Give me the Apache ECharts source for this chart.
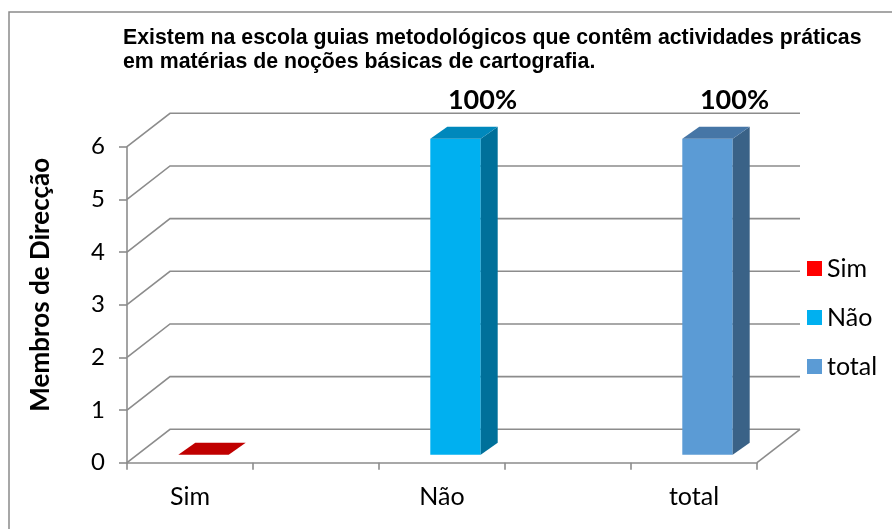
<!DOCTYPE html>
<html>
<head>
<meta charset="utf-8">
<script src="https://cdn.jsdelivr.net/npm/echarts@6/dist/echarts.min.js"></script>
<style>
  html, body { margin: 0; padding: 0; background: #fff; }
  #chart { width: 892px; height: 529px; }
</style>
</head>
<body>
<div id="chart"></div>
<script>
// categorias (os espaços vazios separam as colunas, como no gráfico original)
const categories = ['Sim', '', 'Não', '', 'total']
const yTicks = [0, 1, 2, 3, 4, 5, 6]
const simValues = [0, null, null, null, null]
const naoValues = [null, null, 6, null, null]
const totalValues = [null, null, null, null, 6]
const barLabels = ['', '', '100%', '', '100%']

// profundidade do efeito 3D (px)
const DEPTH_X = 43
const DEPTH_Y = -33.4
const BAR_SHIFT_X = 13.5
const BAR_SHIFT_Y = -8
const SIDE_X = 17
const SIDE_Y = -12
const BAR_RATIO = 0.4

const GRID_COLOR = '#8c8c8c'
const CALIBRI = 'Lato, "Open Sans", sans-serif'

const barSeries = [
  { name: 'Sim', values: simValues, front: '#FF0000', side: '#A00000', top: '#C00000' },
  { name: 'Não', values: naoValues, front: '#00B0F0', side: '#00709A', top: '#0088BC' },
  { name: 'total', values: totalValues, front: '#5B9BD5', side: '#3A6287', top: '#4676A6' }
]

// paredes de fundo e linhas de grelha
function renderWall (params, api) {
  const cs = params.coordSys
  const v = api.value(1)
  const y = api.coord([0, v])[1]
  const xl = cs.x
  const xr = cs.x + cs.width
  const style = { stroke: GRID_COLOR, lineWidth: 1.6, fill: null }
  const children = [{
    type: 'polyline',
    shape: { points: [[xl, y], [xl + DEPTH_X, y + DEPTH_Y], [xr + DEPTH_X, y + DEPTH_Y]] },
    style: style
  }]
  if (v === 0) {
    children.push({
      type: 'line',
      shape: { x1: xr, y1: y, x2: xr + DEPTH_X, y2: y + DEPTH_Y },
      style: style
    })
  }
  return { type: 'group', children: children }
}

function makeBarRenderer (s) {
  return function (params, api) {
    const idx = api.value(0)
    const v = api.value(1)
    const base = api.coord([idx, 0])
    const topPt = api.coord([idx, v])
    const w = api.size([1, 0])[0] * BAR_RATIO
    const x0 = base[0] + BAR_SHIFT_X - w / 2
    const x1 = x0 + w
    const yb = base[1] + BAR_SHIFT_Y
    const yt = topPt[1] + BAR_SHIFT_Y
    const children = []
    if (yb - yt > 0.5) {
      children.push({
        type: 'rect',
        shape: { x: x0, y: yt, width: w, height: yb - yt },
        style: { fill: s.front }
      })
      children.push({
        type: 'polygon',
        shape: { points: [[x1, yb], [x1, yt], [x1 + SIDE_X, yt + SIDE_Y], [x1 + SIDE_X, yb + SIDE_Y]] },
        style: { fill: s.side }
      })
    }
    children.push({
      type: 'polygon',
      shape: { points: [[x0, yt], [x1, yt], [x1 + SIDE_X, yt + SIDE_Y], [x0 + SIDE_X, yt + SIDE_Y]] },
      style: { fill: s.top }
    })
    const label = barLabels[idx]
    if (label) {
      children.push({
        type: 'text',
        style: {
          text: label,
          x: x0 + w / 2 + 27,
          y: yt + SIDE_Y - 26,
          align: 'center',
          verticalAlign: 'middle',
          fill: '#000',
          font: 'bold 27px ' + CALIBRI
        }
      })
    }
    return { type: 'group', children: children }
  }
}

const chart = echarts.init(document.getElementById('chart'))

const option = {
  animation: false,
  backgroundColor: '#fff',
  graphic: [{
    type: 'rect',
    shape: { x: 9, y: 12, width: 1000, height: 1000 },
    style: { fill: null, stroke: '#8a8a8a', lineWidth: 1.5 },
    z: -1
  }],
  title: {
    text: 'Existem na escola guias metodológicos que contêm actividades práticas\nem matérias de noções básicas de cartografia.',
    left: 123,
    top: 26,
    padding: 0,
    textStyle: {
      fontFamily: '"Liberation Sans", Arial, sans-serif',
      fontWeight: 'bold',
      fontSize: 21.3,
      lineHeight: 24,
      color: '#000'
    }
  },
  legend: {
    orient: 'vertical',
    left: 802,
    top: 251,
    itemWidth: 15,
    itemHeight: 15,
    itemGap: 24,
    icon: 'rect',
    data: barSeries.map(s => s.name),
    textStyle: { fontFamily: CALIBRI, fontSize: 25, lineHeight: 24, color: '#000' }
  },
  grid: {
    left: 127,
    right: 135,
    top: 146.7,
    bottom: 66.3
  },
  xAxis: {
    type: 'category',
    data: categories,
    boundaryGap: true,
    axisLine: { show: true, lineStyle: { color: GRID_COLOR, width: 1.6 } },
    axisTick: { show: true, interval: 0, length: 7, lineStyle: { color: GRID_COLOR, width: 1.6 } },
    axisLabel: { interval: 0, margin: 22, fontFamily: CALIBRI, fontSize: 25, color: '#000' },
    splitLine: { show: false }
  },
  yAxis: {
    type: 'value',
    min: 0,
    max: 6,
    interval: 1,
    name: 'Membros de Direcção',
    nameLocation: 'middle',
    nameGap: 73,
    nameTextStyle: {
      fontFamily: CALIBRI,
      fontWeight: 'bold',
      fontSize: 26,
      color: '#000',
      padding: [0, 0, 0, 40]
    },
    axisLine: { show: true, lineStyle: { color: GRID_COLOR, width: 1.6 } },
    axisTick: { show: true, length: 8, lineStyle: { color: GRID_COLOR, width: 1.6 } },
    axisLabel: { margin: 22, fontFamily: CALIBRI, fontSize: 24, color: '#000' },
    splitLine: { show: false }
  },
  series: [
    {
      type: 'custom',
      name: 'grelha',
      clip: false,
      silent: true,
      z: 1,
      data: yTicks.map(v => [0, v]),
      encode: { x: 0, y: 1 },
      renderItem: renderWall
    }
  ].concat(barSeries.map(s => ({
    type: 'custom',
    name: s.name,
    clip: false,
    z: 3,
    itemStyle: { color: s.front },
    data: s.values.map((v, i) => [i, v]).filter(d => d[1] !== null),
    encode: { x: 0, y: 1 },
    renderItem: makeBarRenderer(s)
  })))
}

chart.setOption(option)
</script>
</body>
</html>
